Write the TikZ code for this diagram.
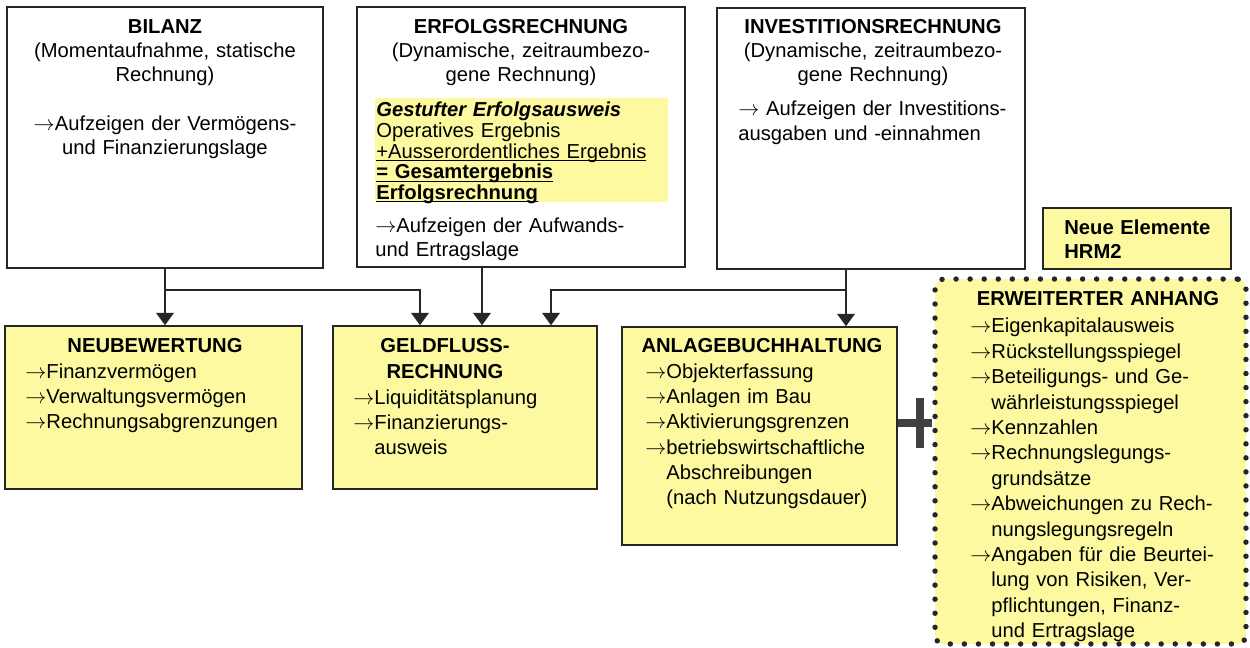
\documentclass[tikz,border=0pt]{standalone}
\usepackage{fontspec}
\setmainfont{Liberation Sans}
\usepackage{tikz}
\usetikzlibrary{
  arrows.meta,
  positioning,
  calc
}
\definecolor{hrmyellow}{RGB}{252,249,160}
\newcommand{\toarrow}{$\rightarrow$}
\newcommand{\indentarr}{\phantom{\toarrow}}
\newcommand{\flatul}[1]{\smash{\underline{\smash{#1}}}}

\begin{document}
\begin{tikzpicture}[
      x=0.02cm,y=-0.02cm,
      statement/.style={
         rectangle,
         draw=black!85,
         line width=0.9pt,
         fill=white,
         inner sep=0pt
      },
      element/.style={
         statement,
         fill=hrmyellow
      },
      appendix/.style={
         rectangle,
         rounded corners=5pt,
         draw=black!85,
         fill=hrmyellow,
         line width=3.1pt,
         line cap=round,
         dash pattern=on 0pt off 8pt,
         inner sep=0pt
      },
      headline/.style={
         anchor=base,
         text width=6cm,
         align=center,
         inner sep=0pt,
         font=\fontsize{11.5}{13.6}\selectfont
      },
      lowhead/.style={
         headline,
         font=\fontsize{11.5}{14.45}\selectfont\bfseries
      },
      itemlist/.style={
         anchor=base west,
         text width=5.8cm,
         align=left,
         inner sep=0pt,
         font=\fontsize{11.5}{14.45}\selectfont
      },
      highlight/.style={
         rectangle,
         fill=hrmyellow,
         inner sep=0pt
      },
      flow/.style={-{Triangle[length=7pt,width=10pt]},draw=black!85,line width=0.9pt},
      plusbar/.style={draw=black!75,line width=5pt}
    ]
    \useasboundingbox (0,0) rectangle (1250,648);

    % upper statements
    \node (bilanz) [statement, minimum width=6.32cm, minimum height=5.22cm] at (165,137.5) {};
    \node (erfolg) [statement, minimum width=6.56cm, minimum height=5.2cm] at (521,137) {};
    \node (invest) [statement, minimum width=6.16cm, minimum height=5.22cm] at (871,138.5) {};
    \node (neue) [element, minimum width=3.76cm, minimum height=1.22cm] at (1137,238.5) {};

    % lower elements
    \node (neubew) [element, minimum width=5.94cm, minimum height=3.26cm] at (153.5,407.5) {};
    \node (geld) [element, minimum width=5.28cm, minimum height=3.26cm] at (465,407.5) {};
    \node (anlage) [element, minimum width=5.5cm, minimum height=4.36cm] at (759.5,436) {};
    \node (anhang) [appendix, minimum width=6.22cm, minimum height=7.3cm] at (1090.5,461.5) {};

    % texts
    \node (bilanzhead) [headline] at (165,34) {\textbf{BILANZ}\\(Momentaufnahme, statische\\Rechnung)};
    \node (bilanztext) [headline] at (165,131) {\toarrow Aufzeigen der Vermögens-\\und Finanzierungslage};
    \node (erfolghead) [headline] at (521,34) {\textbf{ERFOLGSRECHNUNG}\\(Dynamische, zeitraumbezo-\\gene Rechnung)};
    \node (stufenfill) [highlight, minimum width=5.86cm, minimum height=2.08cm] at (521.5,150) {};
    \node (stufen) [itemlist, font=\fontsize{11.5}{11.7}\selectfont] at (376,117) {\textbf{\textit{Gestufter Erfolgsausweis}}\\Operatives Ergebnis\\\flatul{+Ausserordentliches Ergebnis}\\\textbf{\flatul{= Gesamtergebnis}}\\\textbf{\flatul{Erfolgsrechnung}}};
    \node (erfolgtext) [itemlist, font=\fontsize{11.5}{13.6}\selectfont] at (375,233) {\toarrow Aufzeigen der Aufwands-\\und Ertragslage};
    \node (investhead) [headline] at (873,34) {\textbf{INVESTITIONSRECHNUNG}\\(Dynamische, zeitraumbezo-\\gene Rechnung)};
    \node (investtext) [itemlist, font=\fontsize{11.5}{14.2}\selectfont] at (738,116) {\toarrow{} Aufzeigen der Investitions-\\ausgaben und -einnahmen};
    \node (neuetext) [itemlist, font=\fontsize{11.5}{13.6}\selectfont\bfseries] at (1064,235) {Neue Elemente\\HRM2};

    \node (neubewhead) [lowhead] at (155,353) {NEUBEWERTUNG};
    \node (neubewlist) [itemlist] at (25,378) {\toarrow Finanzvermögen\\\toarrow Verwaltungsvermögen\\\toarrow Rechnungsabgrenzungen};
    \node (geldhead) [lowhead] at (445,353) {GELDFLUSS-\\RECHNUNG};
    \node (geldlist) [itemlist] at (353,404) {\toarrow Liquiditätsplanung\\\toarrow Finanzierungs-\\\indentarr ausweis};
    \node (anlagehead) [lowhead] at (762,353) {ANLAGEBUCHHALTUNG};
    \node (anlagelist) [itemlist] at (645,378) {\toarrow Objekterfassung\\\toarrow Anlagen im Bau\\\toarrow Aktivierungsgrenzen\\\toarrow betriebswirtschaftliche\\\indentarr Abschreibungen\\\indentarr (nach Nutzungsdauer)};
    \node (anhanghead) [lowhead] at (1098,306) {ERWEITERTER ANHANG};
    \node (anhanglist) [itemlist] at (970,333) {\toarrow Eigenkapitalausweis\\\toarrow Rückstellungsspiegel\\\toarrow Beteiligungs- und Ge-\\\indentarr währleistungsspiegel\\\toarrow Kennzahlen\\\toarrow Rechnungslegungs-\\\indentarr grundsätze\\\toarrow Abweichungen zu Rech-\\\indentarr nungslegungsregeln\\\toarrow Angaben für die Beurtei-\\\indentarr lung von Risiken, Ver-\\\indentarr pflichtungen, Finanz-\\\indentarr und Ertragslage};

    % connectors
    \coordinate (bsplit) at ($(bilanz.south)+(0,21)$);
    \coordinate (isplit) at ($(invest.south)+(-25,20)$);
    \draw[flow] (bilanz.south) -- (bilanz.south |- neubew.north);
    \draw[flow] (bsplit) -| ($(geld.north)+(-45,0)$);
    \draw[flow] ($(erfolg.south)+(-39,0)$) -- ($(geld.north)+(17,0)$);
    \draw[flow] ($(invest.south)+(-25,0)$) -- ($(anlage.north)+(86.5,0)$);
    \draw[flow] (isplit) -| ($(geld.north)+(86,0)$);

    % plus sign
    \coordinate (plus) at (920,423);
    \draw[plusbar] (anlage.east |- plus) -- (anhang.west |- plus);
    \draw[plusbar] ($(plus)+(0,-25)$) -- ($(plus)+(0,25)$);
\end{tikzpicture}
\end{document}
